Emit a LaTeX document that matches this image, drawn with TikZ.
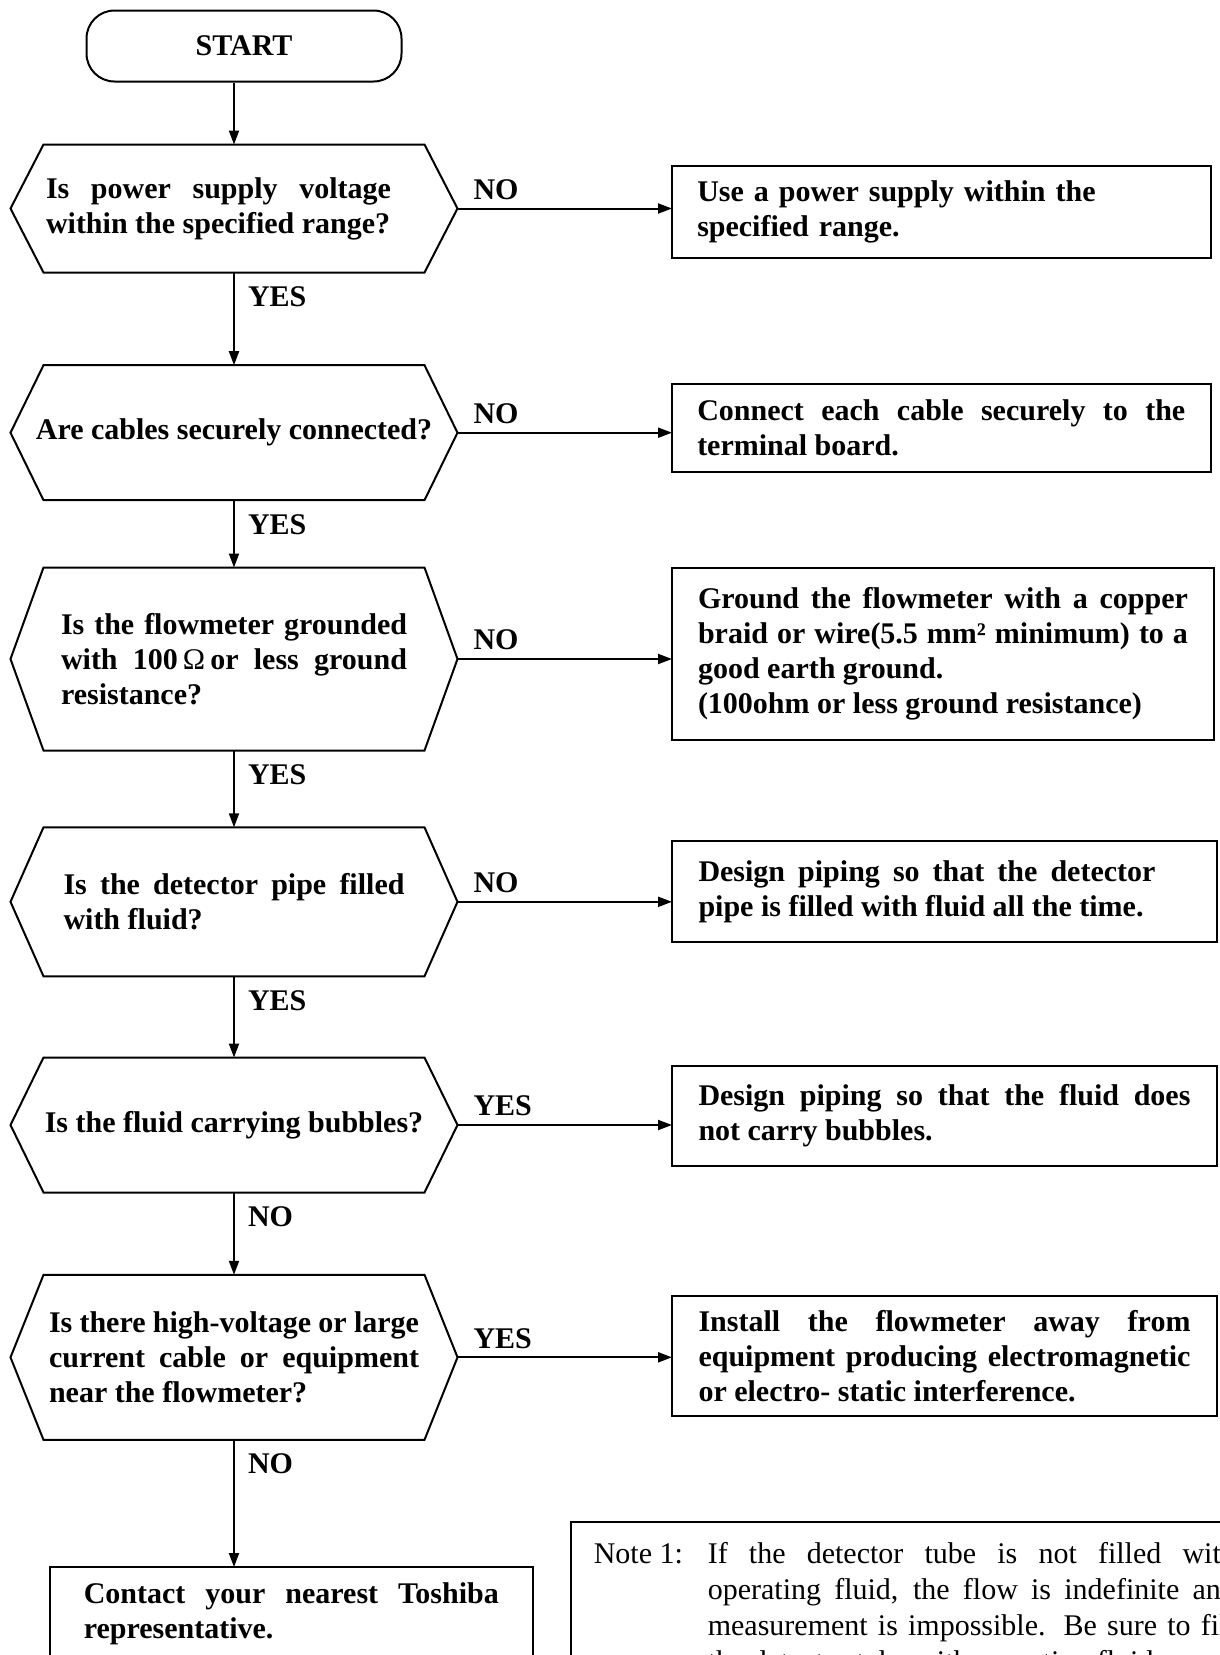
\documentclass[tikz,border=0pt]{standalone}
\usepackage{fontspec}
\setmainfont{Liberation Serif}
\usetikzlibrary{arrows.meta}
\setlength{\parindent}{0pt}
\tolerance=10000
\hyphenpenalty=10000

\begin{document}
\begin{tikzpicture}[x=1pt, y=-1pt, line width=2pt, >={Triangle[length=14pt,width=10pt]},
  every node/.style={font=\fontsize{30}{35}\selectfont\bfseries},
  decision/.style={rectangle, minimum width=447pt, inner sep=0pt, outer sep=0pt, align=justify},
  action/.style={draw, rectangle, anchor=west, inner sep=0pt, outer sep=0pt, align=justify, text width=488pt},
  lbl/.style={inner sep=0pt}]
\useasboundingbox (0,0) rectangle (1220,1655);
\clip (0,0) rectangle (1220,1655);

\node (start) [draw, rounded corners=28pt, minimum width=315pt, minimum height=71pt] at (244,46) {START};

\node (q1) [decision, minimum height=128pt, text width=376pt] at (234,208.5) {\rightskip=31pt Is power supply voltage\linebreak within the specified range?\par};
\node (q2) [decision, minimum height=135pt, align=center] at (234,432.7) {Are cables securely connected?};
\node (q3) [decision, minimum height=183pt, text width=346pt] at (234,659) {Is the flowmeter grounded\linebreak with 100\,{\mdseries Ω}\,or less ground\linebreak resistance?};
\node (q4) [decision, minimum height=149pt, text width=341pt] at (234,901.8) {Is the detector pipe filled\linebreak with fluid?};
\node (q5) [decision, minimum height=135pt, align=center] at (234,1125) {Is the fluid carrying bubbles?};
\node (q6) [decision, minimum height=165pt, text width=370pt] at (234,1357.3) {Is there high-voltage or large\linebreak current cable or equipment\linebreak near the flowmeter?};

\foreach \q in {q1,q2,q3,q4,q5,q6}
  \draw ([xshift=33pt]\q.north west) -- ([xshift=-33pt]\q.north east) -- (\q.east) -- ([xshift=-33pt]\q.south east) -- ([xshift=33pt]\q.south west) -- (\q.west) -- cycle;

\node (r1) [action, minimum width=538.5pt, minimum height=92pt, align=left] at (672,211.6) {Use a power supply within the\\specified range.};
\node (r2) [action, minimum width=538.5pt, minimum height=88pt] at (672,428) {Connect each cable securely to the\linebreak terminal board.};
\node (r3) [action, minimum width=542pt, minimum height=172pt, text width=490pt] at (672,653.8) {Ground the flowmeter with a copper\linebreak braid or wire(5.5 mm² minimum) to a\linebreak good earth ground.\\(100ohm or less ground resistance)};
\node (r4) [action, minimum width=545pt, minimum height=101pt, text width=492pt] at (672,891.8) {\rightskip=35pt Design piping so that the detector\linebreak pipe is filled with fluid all the time.\par};
\node (r5) [action, minimum width=545pt, minimum height=100pt, text width=492pt] at (672,1116) {Design piping so that the fluid does\linebreak not carry bubbles.};
\node (r6) [action, minimum width=545pt, minimum height=120pt, text width=492pt] at (672,1356) {Install the flowmeter away from\linebreak equipment producing electromagnetic\linebreak or electro- static interference.};

\node (contact) [draw, anchor=north, minimum width=483pt, minimum height=94pt, text width=415pt, inner sep=0pt, outer sep=0pt, align=justify] at (291.3,1567) {Contact your nearest Toshiba\linebreak representative.};

\node (note) [draw, line width=1.6pt, anchor=north west, inner xsep=23pt, inner ysep=21pt, font=\fontsize{30}{36}\selectfont] at (570,1521) {\makebox[114pt][l]{Note 1:}\parbox[t]{528pt}{If the detector tube is not filled with\linebreak operating fluid, the flow is indefinite and\linebreak measurement is impossible. Be sure to fill\linebreak the detector tube with operating fluid}};

\draw[->] (start.south -| q1.north) -- (q1.north);
\draw[->] (q1) -- (q2) node[lbl, pos=0, anchor=north west, xshift=13pt, yshift=-13pt] {YES};
\draw[->] (q2) -- (q3) node[lbl, pos=0, anchor=north west, xshift=13pt, yshift=-13pt] {YES};
\draw[->] (q3) -- (q4) node[lbl, pos=0, anchor=north west, xshift=13pt, yshift=-13pt] {YES};
\draw[->] (q4) -- (q5) node[lbl, pos=0, anchor=north west, xshift=13pt, yshift=-13pt] {YES};
\draw[->] (q5) -- (q6) node[lbl, pos=0, anchor=north west, xshift=13pt, yshift=-13pt] {NO};
\draw[->] (q6.south) -- (q6.south |- contact.north) node[lbl, pos=0, anchor=north west, xshift=13pt, yshift=-13pt] {NO};

\draw[->] (q1.east) -- (q1.east -| r1.west) node[lbl, pos=0, anchor=south west, xshift=15pt, yshift=8pt] {NO};
\draw[->] (q2.east) -- (q2.east -| r2.west) node[lbl, pos=0, anchor=south west, xshift=15pt, yshift=8pt] {NO};
\draw[->] (q3.east) -- (q3.east -| r3.west) node[lbl, pos=0, anchor=south west, xshift=15pt, yshift=8pt] {NO};
\draw[->] (q4.east) -- (q4.east -| r4.west) node[lbl, pos=0, anchor=south west, xshift=15pt, yshift=8pt] {NO};
\draw[->] (q5.east) -- (q5.east -| r5.west) node[lbl, pos=0, anchor=south west, xshift=15pt, yshift=8pt] {YES};
\draw[->] (q6.east) -- (q6.east -| r6.west) node[lbl, pos=0, anchor=south west, xshift=15pt, yshift=8pt] {YES};
\end{tikzpicture}
\end{document}
